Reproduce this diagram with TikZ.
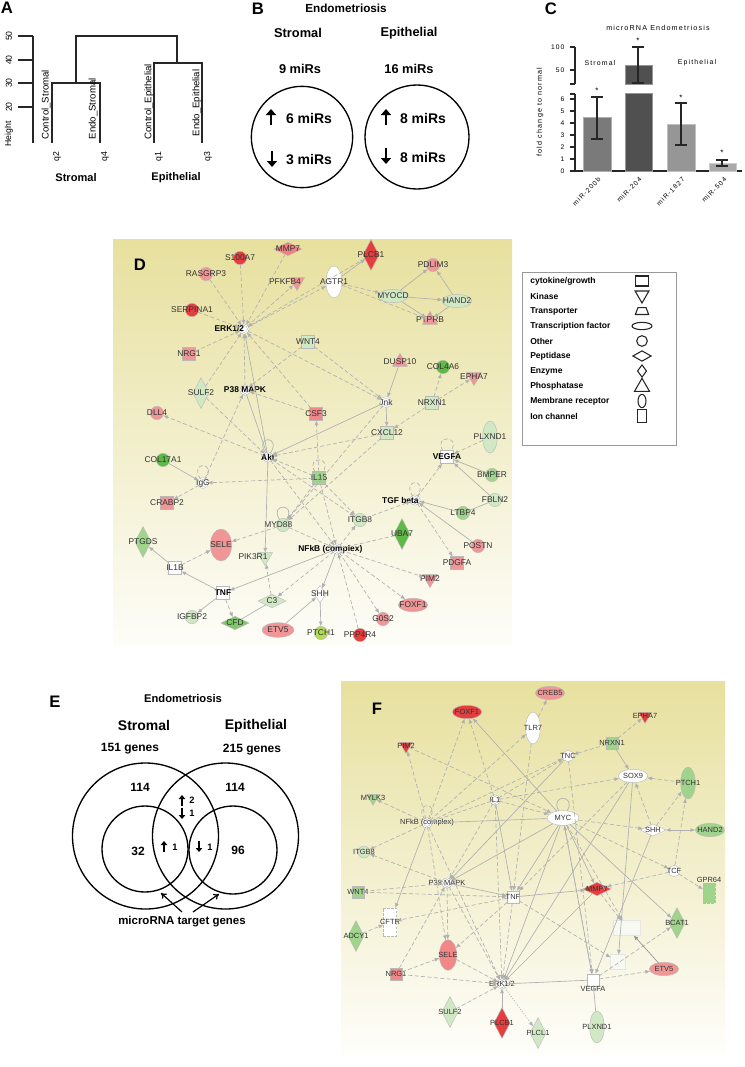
\documentclass[tikz,border=0pt]{standalone}
\usepackage{fontspec}
\setmainfont{Liberation Sans}
\newfontfamily\spfont[LetterSpace=16]{Liberation Sans}
\usetikzlibrary{shapes.geometric,arrows.meta}

\definecolor{ipared}{RGB}{230,62,62}
\definecolor{ipapink}{RGB}{240,150,150}
\definecolor{ipagreen}{RGB}{95,185,70}
\definecolor{ipamgreen}{RGB}{160,212,140}
\definecolor{ipalgreen}{RGB}{208,232,196}
\definecolor{ipaygreen}{RGB}{180,218,90}
\definecolor{netbg}{RGB}{231,224,158}
\definecolor{barA}{RGB}{122,122,122}
\definecolor{barB}{RGB}{80,80,80}
\definecolor{barC}{RGB}{150,150,150}
\definecolor{barD}{RGB}{170,170,170}

\newcommand\dfont{\fontsize{6.3}{7}\selectfont}
\newcommand\ffont{\fontsize{5.6}{6}\selectfont}
\newcommand\panfont{\bfseries\fontsize{12.5}{13}\selectfont}

\tikzset{
  lbl/.style={font=\dfont, text=black!80, inner sep=0pt},
  lblb/.style={font=\dfont\bfseries, text=black, inner sep=0pt},
  flbl/.style={font=\ffont, text=black!80, inner sep=0pt},
  geneat/.style 2 args={inner sep=0pt, outer sep=0pt, draw=gray!55, line width=0.3pt, label={[lbl,xshift=#1]center:#2}},
  gene/.style={geneat={0pt}{#1}},
  fgene/.style={inner sep=0pt, outer sep=0pt, draw=gray!55, line width=0.3pt, label={[flbl]center:#1}},
  cplx/.style 2 args={inner sep=0pt, outer sep=0pt, circle, double, double distance=0.8pt, draw=gray!70, line width=0.3pt, fill=white, minimum size=6.5pt, label={[lblb,xshift=#1]center:#2}},
  fcplx/.style={inner sep=0pt, outer sep=0pt, circle, double, double distance=0.8pt, draw=gray!70, line width=0.3pt, fill=white, minimum size=6.5pt, label={[flbl]center:#1}},
  gc/.style={circle, minimum size=10pt},
  gs/.style={rectangle, minimum size=9.5pt},
  gtd/.style={regular polygon, regular polygon sides=3, shape border rotate=180, minimum size=13pt},
  gtu/.style={regular polygon, regular polygon sides=3, minimum size=13pt},
  gdv/.style={diamond, minimum width=12pt, minimum height=23pt},
  gdh/.style={diamond, minimum width=21pt, minimum height=10pt},
  geh/.style={ellipse, minimum width=22pt, minimum height=10pt},
  gev/.style={ellipse, minimum width=11pt, minimum height=24pt},
  edg/.style={draw=gray!62, line width=0.5pt, -{Latex[length=3.6pt,width=3pt]}},
  dedg/.style={edg, dash pattern=on 3pt off 1.8pt},
  ln/.style={draw=gray!62, line width=0.5pt},
  dln/.style={ln, dash pattern=on 3pt off 1.8pt},
  lgs/.style={draw=black!85, line width=0.8pt, inner sep=0pt, fill=white},
  axis/.style={black!85, line width=0.8pt},
  dendro/.style={black!85, line width=1pt},
  bigarr/.style={line width=1.7pt, -{Triangle[length=4.5pt,width=7.5pt]}},
  smallarr/.style={line width=1.1pt, -{Triangle[length=3pt,width=4.8pt]}},
}

\begin{document}
\begin{tikzpicture}[x=0.75pt,y=-0.75pt]
\useasboundingbox (0,0) rectangle (744,1067);
%
% ---------- A : dendrogram
\node[font=\panfont] (labA) at (7,8) {A};
\draw[axis, line width=1.1pt] (33,36) -- (33,143);
\draw[axis, line width=1.1pt] (18,36) -- (33,36);
\draw[axis, line width=1.1pt] (18,60) -- (33,60);
\draw[axis, line width=1.1pt] (18,83) -- (33,83);
\draw[axis, line width=1.1pt] (18,107) -- (33,107);
\node[font=\fontsize{6.5}{7}\selectfont, rotate=90] (ya50) at (9,36) {50};
\node[font=\fontsize{6.5}{7}\selectfont, rotate=90] (ya40) at (9,60) {40};
\node[font=\fontsize{6.5}{7}\selectfont, rotate=90] (ya30) at (9,83) {30};
\node[font=\fontsize{6.5}{7}\selectfont, rotate=90] (ya20) at (9,107) {20};
\node[font=\fontsize{6.5}{7}\selectfont, rotate=90] (yah) at (9,134) {Height};
\draw[dendro] (76,83) -- (76,36) -- (177,36) -- (177,63);
\draw[dendro] (52,143) -- (52,83) -- (100,83) -- (100,143);
\draw[dendro] (154,143) -- (154,63) -- (202,63) -- (202,143);
\node[font=\fontsize{7.2}{7}\selectfont, rotate=90, anchor=west] (lcs) at (46,144) {Control\_Stromal};
\node[font=\fontsize{7.2}{7}\selectfont, rotate=90, anchor=west] (les) at (93,144) {Endo\_Stromal};
\node[font=\fontsize{7.2}{7}\selectfont, rotate=90, anchor=west] (lce) at (149,144) {Control\_Epithelial};
\node[font=\fontsize{7.2}{7}\selectfont, rotate=90, anchor=west] (lee) at (197,141) {Endo\_Epithelial};
\node[font=\fontsize{6.5}{7}\selectfont, rotate=90, anchor=east] (q2) at (57,147) {q2};
\node[font=\fontsize{6.5}{7}\selectfont, rotate=90, anchor=east] (q4) at (105,147) {q4};
\node[font=\fontsize{6.5}{7}\selectfont, rotate=90, anchor=east] (q1) at (159,147) {q1};
\node[font=\fontsize{6.5}{7}\selectfont, rotate=90, anchor=east] (q3) at (208,147) {q3};
\node[font=\bfseries\fontsize{8.3}{9}\selectfont] (astr) at (76,178) {Stromal};
\node[font=\bfseries\fontsize{8.3}{9}\selectfont] (aepi) at (176,178) {Epithelial};
%
% ---------- B : miR counts
\node[font=\panfont] (labB) at (258,9) {B};
\node[font=\bfseries\fontsize{8.8}{9}\selectfont] (bttl) at (346,8) {Endometriosis};
\node[font=\bfseries\fontsize{9.6}{10}\selectfont] (bstr) at (298,33) {Stromal};
\node[font=\bfseries\fontsize{9.6}{10}\selectfont] (bepi) at (409,33) {Epithelial};
\node[font=\bfseries\fontsize{9.6}{10}\selectfont] (bn1) at (300,69) {9 miRs};
\node[font=\bfseries\fontsize{9.6}{10}\selectfont] (bn2) at (409,69) {16 miRs};
\node[circle, draw, line width=1pt, minimum size=76pt] (bc1) at (302,137) {};
\node[circle, draw, line width=1pt, minimum size=78pt] (bc2) at (417,137) {};
\node[font=\bfseries\fontsize{10.5}{11}\selectfont] (bu1) at (309,118) {6 miRs};
\node[font=\bfseries\fontsize{10.5}{11}\selectfont] (bd1) at (309,160) {3 miRs};
\node[font=\bfseries\fontsize{10.5}{11}\selectfont] (bu2) at (423,118) {8 miRs};
\node[font=\bfseries\fontsize{10.5}{11}\selectfont] (bd2) at (423,157) {8 miRs};
\coordinate (bu1a) at (271,125);
\coordinate (bu1b) at (271,109);
\coordinate (bd1a) at (272,151);
\coordinate (bd1b) at (272,167);
\coordinate (bu2a) at (386,125);
\coordinate (bu2b) at (386,109);
\coordinate (bd2a) at (386,148);
\coordinate (bd2b) at (386,164);
\draw[bigarr] (bu1a) -- (bu1b);
\draw[bigarr] (bd1a) -- (bd1b);
\draw[bigarr] (bu2a) -- (bu2b);
\draw[bigarr] (bd2a) -- (bd2b);
%
% ---------- C : bar chart
\node[font=\panfont] (labC) at (551,9) {C};
\node[font=\spfont\fontsize{5.4}{6}\selectfont] (cttl) at (658,28) {microRNA Endometriosis};
\node[font=\spfont\fontsize{5.4}{6}\selectfont, rotate=90] (cyl) at (540,112) {fold change to normal};
\draw[axis] (575,47) -- (575,84);
\draw[axis] (570,47) -- (575,47);
\draw[axis] (570,70) -- (575,70);
\draw[axis] (570,84) -- (575,84);
\node[font=\spfont\fontsize{5}{6}\selectfont, anchor=east] (c100) at (569,47) {100};
\node[font=\spfont\fontsize{5}{6}\selectfont, anchor=east] (c50) at (569,70) {50};
\draw[axis] (575,94) -- (575,171) -- (742,171);
\draw[axis] (570,94) -- (575,94);
\foreach \v in {0,...,6}{
  \draw[axis] (570,{171-12*\v}) -- (575,{171-12*\v});
  \node[font=\spfont\fontsize{5}{6}\selectfont, anchor=east] (cv\v) at (569,{171-12*\v}) {\v};
}
\draw[fill=barA, draw=barA!60!white, line width=0.6pt] (583,117) rectangle (611,171);
\draw[fill=barB, draw=barB!60!white, line width=0.6pt] (625,93) rectangle (652,171);
\draw[fill=barB, draw=barB!60!white, line width=0.6pt] (625,65) rectangle (652,84);
\draw[fill=barC, draw=barC!60!white, line width=0.6pt] (667,124) rectangle (695,171);
\draw[fill=barD, draw=barD!60!white, line width=0.6pt] (709,163) rectangle (736,171);
\draw[axis] (597,139) -- (597,97) (591,139) -- (603,139) (591,97) -- (603,97);
\draw[axis] (638,83) -- (638,47) (632,83) -- (644,83) (632,47) -- (644,47);
\draw[axis] (681,145) -- (681,103) (675,145) -- (687,145) (675,103) -- (687,103);
\draw[axis] (722,166) -- (722,160) (716,166) -- (728,166) (716,160) -- (728,160);
\node[font=\fontsize{6}{6}\selectfont] (st1) at (597,91) {*};
\node[font=\fontsize{6}{6}\selectfont] (st2) at (638,41) {*};
\node[font=\fontsize{6}{6}\selectfont] (st3) at (681,98) {*};
\node[font=\fontsize{6}{6}\selectfont] (st4) at (722,153) {*};
\node[font=\spfont\fontsize{5.2}{6}\selectfont] (cstr) at (600,63) {Stromal};
\node[font=\spfont\fontsize{5.2}{6}\selectfont] (cepi) at (697,63) {Epithelial};
\node[font=\spfont\fontsize{5}{6}\selectfont, rotate=45, anchor=east, inner sep=0.5pt] (x1) at (600,178) {miR-200b};
\node[font=\spfont\fontsize{5}{6}\selectfont, rotate=45, anchor=east, inner sep=0.5pt] (x2) at (641,178) {miR-204};
\node[font=\spfont\fontsize{5}{6}\selectfont, rotate=45, anchor=east, inner sep=0.5pt] (x3) at (684,178) {miR-1827};
\node[font=\spfont\fontsize{5}{6}\selectfont, rotate=45, anchor=east, inner sep=0.5pt] (x4) at (726,178) {miR-504};
%
% ---------- D : network
\shade[top color=netbg, bottom color=netbg!6] (113,239) rectangle (512,646);
\node[font=\panfont] (labD) at (140,265) {D};
\node[gene=S100A7, gc, fill=ipared] (s100a7) at (240,258) {};
\node[gene=MMP7, gdh, fill=ipapink!85!red] (mmp7d) at (288,249) {};
\node[gene=PLCB1, gdv, fill=ipared] (plcb1d) at (371,255) {};
\node[gene=RASGRP3, gc, fill=ipapink] (rasgrp3) at (206,274) {};
\node[geneat={-9pt}{PFKFB4}, gtd, fill=ipapink] (pfkfb4) at (297,282) {};
\node[gene=AGTR1, gev, fill=white, minimum width=12pt] (agtr1) at (334,282) {};
\node[gene=PDLIM3, gc, fill=ipapink] (pdlim3) at (433,265) {};
\node[gene=MYOCD, geh, fill=ipalgreen] (myocd) at (393,296) {};
\node[gene=HAND2, geh, fill=ipalgreen] (hand2d) at (457,301) {};
\node[gene=PTPRB, gtu, fill=ipapink] (ptprb) at (430,320) {};
\node[gene=SERPINA1, gc, fill=ipared] (serpina1) at (192,310) {};
\node[cplx={-11pt}{ERK1/2}] (erkd) at (244,329) {};
\node[gene=NRG1, gs, fill=ipapink] (nrg1d) at (189,354) {};
\node[gene=WNT4, gs, fill=ipalgreen] (wnt4d) at (308,342) {};
\node[gene=DUSP10, gtu, fill=ipapink] (dusp10) at (400,362) {};
\node[gene=COL4A6, gc, fill=ipagreen] (col4a6) at (443,367) {};
\node[gene=EPHA7, gtd, fill=ipapink] (epha7d) at (474,377) {};
\node[gene=SULF2, gdv, fill=ipalgreen] (sulf2d) at (201,393) {};
\node[cplx={0pt}{P38 MAPK}] (p38d) at (245,390) {};
\node[gene=Jnk, gc, fill=white, double, double distance=0.8pt, minimum size=7pt] (jnk) at (386,402) {};
\node[gene=NRXN1, gs, fill=ipalgreen] (nrxn1d) at (432,403) {};
\node[gene=DLL4, gc, fill=ipapink] (dll4) at (157,413) {};
\node[gene=CSF3, gs, fill=ipapink!90!red] (csf3) at (316,414) {};
\node[gene=CXCL12, gs, fill=ipalgreen] (cxcl12) at (387,433) {};
\node[gene=PLXND1, gev, fill=ipalgreen] (plxnd1d) at (490,437) {};
\node[cplx={0pt}{Akt}] (akt) at (268,457) {};
\node[gene=COL17A1, gc, fill=ipagreen] (col17a1) at (163,460) {};
\node[gs, fill=white, draw=gray!55, line width=0.3pt, inner sep=0pt, label={[lblb]center:VEGFA}] (vegfad) at (447,457) {};
\node[gene=BMPER, gc, fill=ipamgreen] (bmper) at (492,475) {};
\node[gene=IL15, gs, fill=ipamgreen] (il15) at (319,478) {};
\node[gene=IgG, gc, fill=white, double, double distance=0.8pt, minimum size=7pt] (igg) at (203,483) {};
\node[cplx={-11pt}{TGF beta}] (tgfb) at (415,500) {};
\node[gene=FBLN2, gc, fill=ipalgreen] (fbln2) at (495,500) {};
\node[gene=CRABP2, gs, fill=ipapink] (crabp2) at (167,503) {};
\node[gene=LTBP4, gc, fill=ipamgreen] (ltbp4) at (463,513) {};
\node[gene=ITGB8, gc, fill=ipalgreen] (itgb8d) at (360,520) {};
\node[geneat={-3.5pt}{MYD88}, gc, fill=ipalgreen] (myd88) at (283,525) {};
\node[gene=UBA7, gdv, fill=ipagreen] (uba7) at (402,534) {};
\node[gene=PTGDS, gdv, fill=ipamgreen] (ptgds) at (143,542) {};
\node[gene=SELE, gev, fill=ipapink, minimum width=16pt] (sele) at (221,545) {};
\node[gene=POSTN, gc, fill=ipapink] (postn) at (478,546) {};
\node[cplx={-5pt}{NFkB (complex)}] (nfkbd) at (337,549) {};
\node[geneat={-9pt}{PIK3R1}, gtd, fill=ipalgreen] (pik3r1) at (265,557) {};
\node[gene=PDGFA, gs, fill=ipapink] (pdgfa) at (457,563) {};
\node[gene=IL1B, gs, fill=white] (il1b) at (175,568) {};
\node[gene=PIM2, gtd, fill=ipapink] (pim2d) at (430,579) {};
\node[gs, fill=white, draw=gray!55, line width=0.3pt, inner sep=0pt, label={[lblb]center:TNF}] (tnfd) at (223,593) {};
\node[gene=SHH, gdv, fill=white, minimum width=9pt, minimum height=13pt] (shhd) at (320,594) {};
\node[gene=C3, gdh, fill=ipalgreen] (c3) at (272,601) {};
\node[gene=FOXF1, geh, fill=ipapink] (foxf1d) at (413,605) {};
\node[gene=IGFBP2, gc, fill=ipalgreen] (igfbp2) at (192,617) {};
\node[gene=G0S2, gc, fill=ipapink] (g0s2) at (383,619) {};
\node[gene=CFD, gdh, fill=ipagreen!80!white] (cfd) at (235,623) {};
\node[gene=ETV5, geh, fill=ipapink, minimum width=24pt, minimum height=11pt] (etv5) at (278,630) {};
\node[gene=PTCH1, gc, fill=ipaygreen] (ptch1d) at (321,633) {};
\node[gene=PPP4R4, gc, fill=ipared] (ppp4r4) at (360,635) {};
%
\draw[dedg] (rasgrp3) -- (erkd);
\draw[dedg] (s100a7) -- (erkd);
\draw[dedg] (mmp7d) -- (erkd);
\draw[dedg] (erkd) -- (pfkfb4);
\draw[dedg] (erkd) -- (agtr1);
\draw[dedg] (plcb1d) -- (erkd);
\draw[edg] (agtr1) -- (plcb1d);
\draw[dedg] (agtr1) -- (myocd);
\draw[dedg] (agtr1) -- (ptprb);
\draw[edg] (myocd) -- (pdlim3);
\draw[edg] (myocd) -- (hand2d);
\draw[edg] (myocd) -- (ptprb);
\draw[edg] (hand2d) -- (pdlim3);
\draw[edg] (hand2d) -- (ptprb);
\draw[dedg] (serpina1) -- (erkd);
\draw[dedg] (nrg1d) -- (erkd);
\draw[dedg] (sulf2d) -- (erkd);
\draw[dedg] (p38d) -- (erkd);
\draw[dedg] (csf3) -- (erkd);
\draw[edg] (akt) -- (erkd);
\draw[dedg] (wnt4d) -- (p38d);
\draw[dedg] (wnt4d) -- (jnk);
\draw[dedg] (csf3) -- (p38d);
\draw[ln] (p38d) -- (akt);
\draw[dedg] (sulf2d) -- (akt);
\draw[dedg] (akt) -- (dll4);
\draw[dedg] (igg) -- (p38d);
\draw[dedg] (il15) -- (csf3);
\draw[edg] (jnk) -- (akt);
\draw[dedg] (cxcl12) -- (akt);
\draw[edg] (dusp10) -- (jnk);
\draw[dedg] (nrxn1d) -- (col4a6);
\draw[dedg] (nrxn1d) -- (epha7d);
\draw[dedg] (nrxn1d) -- (cxcl12);
\draw[edg] (jnk) -- (cxcl12);
\draw[dedg] (erkd) -- (jnk);
\draw[dedg] (plxnd1d) -- (vegfad);
\draw[dln] (vegfad) .. controls +(-14,-22) and +(14,-22) .. (vegfad);
\draw[edg] (bmper) -- (vegfad);
\draw[edg] (fbln2) -- (vegfad);
\draw[dedg] (tgfb) -- (vegfad);
\draw[dln] (tgfb) .. controls +(-14,-22) and +(14,-22) .. (tgfb);
\draw[edg] (ltbp4) -- (tgfb);
\draw[ln] (fbln2) -- (ltbp4);
\draw[edg] (postn) -- (tgfb);
\draw[dedg] (tgfb) -- (pdgfa);
\draw[dedg] (itgb8d) -- (tgfb);
\draw[dedg] (nfkbd) -- (itgb8d);
\draw[dln] (uba7) -- (nfkbd);
\draw[dedg] (nfkbd) -- (pim2d);
\draw[dedg] (nfkbd) -- (foxf1d);
\draw[dedg] (nfkbd) -- (g0s2);
\draw[dedg] (ppp4r4) -- (nfkbd);
\draw[dedg] (il15) -- (nfkbd);
\draw[dedg] (il15) -- (itgb8d);
\draw[dedg] (il15) -- (igg);
\draw[dln] (il15) .. controls +(-14,-22) and +(14,-22) .. (il15);
\draw[dedg] (il15) -- (akt);
\draw[dedg] (il15) -- (myd88);
\draw[edg] (col17a1) -- (igg);
\draw[dln] (igg) .. controls +(-14,-22) and +(14,-22) .. (igg);
\draw[dedg] (igg) -- (crabp2);
\draw[ln] (akt) .. controls +(-14,-22) and +(14,-22) .. (akt);
\draw[ln] (myd88) .. controls +(-14,-22) and +(14,-22) .. (myd88);
\draw[edg] (akt) -- (pik3r1);
\draw[dedg] (akt) -- (nfkbd);
\draw[dedg] (akt) -- (itgb8d);
\draw[dedg] (myd88) -- (nfkbd);
\draw[dedg] (myd88) -- (sele);
\draw[dedg] (il1b) -- (sele);
\draw[edg] (il1b) -- (ptgds);
\draw[edg] (tnfd) -- (il1b);
\draw[edg] (tnfd) -- (igfbp2);
\draw[dedg] (tnfd) -- (cfd);
\draw[edg] (nfkbd) -- (tnfd);
\draw[ln] (cfd) -- (c3);
\draw[dedg] (c3) -- (pik3r1);
\draw[dedg] (nfkbd) -- (c3);
\draw[edg] (etv5) -- (shhd);
\draw[edg] (shhd) -- (ptch1d);
\draw[edg] (nfkbd) -- (shhd);
\draw[dedg] (jnk) -- (myd88);
\draw[dedg] (cxcl12) -- (myd88);
%
% legend
\node[draw=gray!80, line width=0.5pt, minimum width=115.5pt, minimum height=129.5pt, anchor=north west, inner sep=0pt] (legbox) at (522,272) {};
\foreach \nm [count=\i from 0] in {{cytokine/growth},Kinase,Transporter,{Transcription factor},Other,Peptidase,Enzyme,Phosphatase,{Membrane receptor},{Ion channel}}{
  \node[anchor=west, font=\bfseries\fontsize{6.4}{7}\selectfont, inner sep=0pt] (lg\i) at (530,{281+15*\i}) {\nm};
}
\node[lgs, rectangle, minimum width=10pt, minimum height=7.5pt] (ls0) at (642,281) {};
\node[lgs, regular polygon, regular polygon sides=3, shape border rotate=180, minimum size=12pt] (ls1) at (642,295) {};
\coordinate (ls2) at (642,311);
\draw[lgs] ([xshift=-5pt,yshift=-2.6pt]ls2) -- ([xshift=5pt,yshift=-2.6pt]ls2) -- ([xshift=3pt,yshift=2.6pt]ls2) -- ([xshift=-3pt,yshift=2.6pt]ls2) -- cycle;
\node[lgs, ellipse, minimum width=15pt, minimum height=5.5pt] (ls3) at (642,326) {};
\node[lgs, circle, minimum size=8pt] (ls4) at (642,341) {};
\node[lgs, diamond, minimum width=14pt, minimum height=8pt] (ls5) at (642,356) {};
\node[lgs, diamond, minimum width=7pt, minimum height=9.5pt] (ls6) at (642,371) {};
\node[lgs, regular polygon, regular polygon sides=3, minimum size=13pt] (ls7) at (642,387) {};
\node[lgs, ellipse, minimum width=6pt, minimum height=10pt] (ls8) at (642,401) {};
\node[lgs, rectangle, minimum width=6.5pt, minimum height=10pt] (ls9) at (642,416) {};
%
% ---------- E : Venn
\node[font=\panfont] (labE) at (55,702) {E};
\node[font=\bfseries\fontsize{8.4}{9}\selectfont] (ettl) at (183,698) {Endometriosis};
\node[font=\bfseries\fontsize{10.5}{11}\selectfont] (estr) at (144,725) {Stromal};
\node[font=\bfseries\fontsize{10.5}{11}\selectfont] (eepi) at (256,726) {Epithelial};
\node[font=\bfseries\fontsize{9}{10}\selectfont] (eg1) at (130,749) {151 genes};
\node[font=\bfseries\fontsize{9}{10}\selectfont] (eg2) at (252,750) {215 genes};
\node[circle, draw, line width=1pt, minimum size=109.5pt] (cbl) at (145.5,836) {};
\node[circle, draw, line width=1pt, minimum size=109.5pt] (cbr) at (225.5,836) {};
\node[circle, draw, line width=1pt, minimum size=64.5pt] (csl) at (145,849) {};
\node[circle, draw, line width=1pt, minimum size=66pt] (csr) at (233,850) {};
\node[font=\bfseries\fontsize{9}{10}\selectfont] (n114a) at (140,787) {114};
\node[font=\bfseries\fontsize{9}{10}\selectfont] (n114b) at (235,787) {114};
\node[font=\bfseries\fontsize{7}{8}\selectfont] (nu2) at (192,800) {2};
\node[font=\bfseries\fontsize{7}{8}\selectfont] (nd1) at (192,813) {1};
\node[font=\bfseries\fontsize{9}{10}\selectfont] (n32) at (138,851) {32};
\node[font=\bfseries\fontsize{7}{8}\selectfont] (nu1) at (175,847) {1};
\node[font=\bfseries\fontsize{7}{8}\selectfont] (nd1b) at (210,847) {1};
\node[font=\bfseries\fontsize{9}{10}\selectfont] (n96) at (238,850) {96};
\coordinate (eu2a) at (182,806);
\coordinate (eu2b) at (182,795);
\coordinate (ed1a) at (182,808);
\coordinate (ed1b) at (182,819);
\coordinate (eu1a) at (164,852);
\coordinate (eu1b) at (164,841);
\coordinate (ed1ba) at (199,841);
\coordinate (ed1bb) at (199,852);
\draw[smallarr] (eu2a) -- (eu2b);
\draw[smallarr] (ed1a) -- (ed1b);
\draw[smallarr] (eu1a) -- (eu1b);
\draw[smallarr] (ed1ba) -- (ed1bb);
\node[font=\bfseries\fontsize{8.6}{9}\selectfont] (mtg) at (182,922) {microRNA target genes};
\coordinate (al) at (182,912);
\coordinate (ar) at (193,912);
\coordinate (tl) at (161,893);
\coordinate (tr) at (219,894);
\draw[line width=0.9pt, -{To[length=4pt,width=5pt]}] (al) -- (tl);
\draw[line width=0.9pt, -{To[length=4pt,width=5pt]}] (ar) -- (tr);
%
% ---------- F : network
\shade[top color=netbg, bottom color=netbg!4] (341,681) rectangle (725,1055);
\node[font=\panfont] (labF) at (377,709) {F};
\node[fgene=FOXF1, geh, fill=ipared] (foxf1f) at (467,712) {};
\node[fgene=CREB5, geh, fill=ipapink] (creb5) at (550,693) {};
\node[fgene=TLR7, gev, fill=white] (tlr7) at (533,728) {};
\node[fgene=PIM2, gtd, fill=ipared, minimum size=11pt] (pim2f) at (406,746) {};
\node[fgene=EPHA7, gtd, fill=ipared, minimum size=11pt] (epha7f) at (645,716) {};
\node[fgene=NRXN1, gs, fill=ipamgreen, minimum size=9pt] (nrxn1f) at (612,743) {};
\node[fgene=TNC, gc, fill=white, minimum size=8.5pt] (tncf) at (568,756) {};
\node[fgene=SOX9, geh, fill=white] (sox9) at (633,776) {};
\node[fgene=PTCH1, gev, fill=ipamgreen] (ptch1f) at (688,783) {};
\node[fgene=MYLK3, gtd, fill=ipamgreen, minimum size=11pt] (mylk3) at (373,798) {};
\node[fcplx=IL1] (il1f) at (495,800) {};
\node[fgene=MYC, geh, fill=white, minimum width=24pt, minimum height=11pt] (mycf) at (563,818) {};
\node[fcplx={NFkB (complex)}] (nfkbf) at (427,823) {};
\node[fgene=SHH, gdh, fill=white, minimum width=19pt, minimum height=9pt] (shhf) at (653,830) {};
\node[fgene=HAND2, geh, fill=ipamgreen] (hand2f) at (710,830) {};
\node[fgene=ITGB8, gc, fill=ipalgreen, minimum size=9pt] (itgb8f) at (364,852) {};
\node[fgene=TCF, gc, fill=white, minimum size=8.5pt] (tcf) at (674,871) {};
\node[inner sep=0pt, outer sep=0pt, draw=gray!55, line width=0.3pt, rectangle, fill=ipamgreen, dash pattern=on 2pt off 1pt, minimum width=9pt, minimum height=15pt, label={[flbl]above:GPR64}] (gpr64) at (709,893) {};
\node[fcplx={P38 MAPK}] (p38f) at (447,883) {};
\node[fgene=MMP7, gdh, fill=ipared] (mmp7f) at (597,889) {};
\node[fgene=WNT4, gs, fill=ipamgreen, minimum size=9pt] (wnt4f) at (358,892) {};
\node[fgene=TNF, gs, fill=white, minimum size=9pt] (tnff) at (513,897) {};
\node[fgene=CFTR, gs, fill=white, dash pattern=on 2pt off 1pt, minimum width=10pt, minimum height=21pt] (cftr) at (390,922) {};
\node[fgene=BCAT1, gdv, fill=ipamgreen] (bcat1) at (677,923) {};
\node[fgene={}, rectangle, fill=white!80!ipalgreen, draw=gray!20, minimum width=20pt, minimum height=11pt] (pale1) at (627,928) {};
\node[fgene={}, rectangle, fill=white!80!ipalgreen, draw=gray!20, minimum size=11pt] (pale2) at (618,962) {};
\node[fgene=ETV5, geh, fill=ipapink] (etv5f) at (664,969) {};
\node[fgene=ADCY1, gdv, fill=ipamgreen] (adcy1) at (356,936) {};
\node[fgene=SELE, gev, fill=ipapink!90!red, minimum width=13pt, minimum height=23pt] (selef) at (448,955) {};
\node[fgene=NRG1, gs, fill=ipapink!90!red, minimum size=9pt] (nrg1f) at (396,974) {};
\node[fcplx={ERK1/2}] (erkf) at (502,984) {};
\node[inner sep=0pt, outer sep=0pt, draw=gray!55, line width=0.3pt, rectangle, fill=white, minimum size=9pt, label={[flbl]below:VEGFA}] (vegfaf) at (593,980) {};
\node[fgene=SULF2, gdv, fill=ipalgreen] (sulf2f) at (450,1012) {};
\node[fgene=PLCB1, gdv, fill=ipared] (plcb1f) at (502,1023) {};
\node[fgene=PLCL1, gdv, fill=ipalgreen] (plcl1) at (538,1033) {};
\node[fgene=PLXND1, gev, fill=ipalgreen] (plxnd1f) at (597,1027) {};
%
\draw[dedg] (nfkbf) -- (foxf1f);
\draw[dedg] (il1f) -- (foxf1f);
\draw[edg] (mycf) -- (foxf1f);
\draw[dedg] (tlr7) -- (creb5);
\draw[dedg] (nfkbf) -- (tlr7);
\draw[dedg] (nfkbf) -- (pim2f);
\draw[dedg] (pim2f) -- (mycf);
\draw[dedg] (nfkbf) -- (mylk3);
\draw[dedg] (nfkbf) -- (itgb8f);
\draw[dln] (nfkbf) .. controls +(-14,-22) and +(14,-22) .. (nfkbf);
\draw[dedg] (il1f) -- (nfkbf);
\draw[ln] (nfkbf) -- (mycf);
\draw[dedg] (nfkbf) -- (tncf);
\draw[dedg] (il1f) -- (tncf);
\draw[dedg] (il1f) -- (mycf);
\draw[dedg] (il1f) -- (sox9);
\draw[edg] (il1f) -- (tnff);
\draw[dedg] (il1f) -- (erkf);
\draw[dedg] (il1f) -- (p38f);
\draw[dedg] (nrxn1f) -- (tncf);
\draw[dedg] (nrxn1f) -- (epha7f);
\draw[edg] (nrxn1f) -- (sox9);
\draw[dedg] (ptch1f) -- (sox9);
\draw[dedg] (shhf) -- (sox9);
\draw[dedg] (shhf) -- (ptch1f);
\draw[edg, {Latex[length=3.6pt,width=3pt]}-{Latex[length=3.6pt,width=3pt]}] (shhf) -- (hand2f);
\draw[dedg] (mycf) -- (shhf);
\draw[dedg] (tcf) -- (ptch1f);
\draw[dedg] (tcf) -- (gpr64);
\draw[dedg] (tcf) -- (mmp7f);
\draw[ln] (mycf) .. controls +(-14,-24) and +(14,-24) .. (mycf);
\draw[edg] (mycf) -- (mmp7f);
\draw[dedg] (p38f) -- (itgb8f);
\draw[dedg] (wnt4f) -- (p38f);
\draw[dedg] (adcy1) -- (cftr);
\draw[dedg] (tnff) -- (cftr);
\draw[edg] (nfkbf) -- (cftr);
\draw[edg] (p38f) -- (tnff);
\draw[edg] (tnff) -- (mmp7f);
\draw[dedg] (p38f) -- (selef);
\draw[dedg] (tnff) -- (selef);
\draw[dedg] (nfkbf) -- (selef);
\draw[dedg] (nrg1f) -- (selef);
\draw[dedg] (nrg1f) -- (erkf);
\draw[dedg] (nrg1f) -- (p38f);
\draw[dedg] (selef) -- (erkf);
\draw[dedg] (sulf2f) -- (erkf);
\draw[edg] (plcb1f) -- (erkf);
\draw[edg, dash pattern=on 0.8pt off 1.2pt] (erkf) -- (plcl1);
\draw[edg] (plxnd1f) -- (vegfaf);
\draw[ln] (erkf) -- (vegfaf);
\draw[dedg] (tnff) -- (erkf);
\draw[dedg] (p38f) -- (erkf);
\draw[dedg] (nfkbf) -- (erkf);
\draw[edg] (mycf) -- (erkf);
\draw[edg] (sox9) -- (erkf);
\draw[edg] (mmp7f) -- (erkf);
\draw[edg] (tncf) -- (p38f);
\draw[dedg] (tncf) -- (vegfaf);
\draw[edg] (mycf) -- (vegfaf);
\draw[edg] (mycf) -- (p38f);
\draw[edg] (mycf) -- (tnff);
\draw[dedg] (sox9) -- (tnff);
\draw[dedg] (tlr7) -- (tnff);
\draw[dedg] (wnt4f) -- (tnff);
\draw[edg] (mycf) -- (bcat1);
\draw[dedg] (vegfaf) -- (bcat1);
\draw[dedg] (vegfaf) -- (mycf);
\draw[edg] (shhf) -- (vegfaf);
\draw[dedg] (mycf) -- (tcf);
\draw[edg, draw=gray!85] (etv5f) -- (pale1);
\draw[dedg] (vegfaf) -- (etv5f);
\draw[dedg] (mmp7f) -- (pale1);
\draw[dedg] (mycf) -- (pale1);
\draw[dedg] (tnff) -- (pale2);
\draw[edg] (sox9) -- (pale2);
\end{tikzpicture}
\end{document}
